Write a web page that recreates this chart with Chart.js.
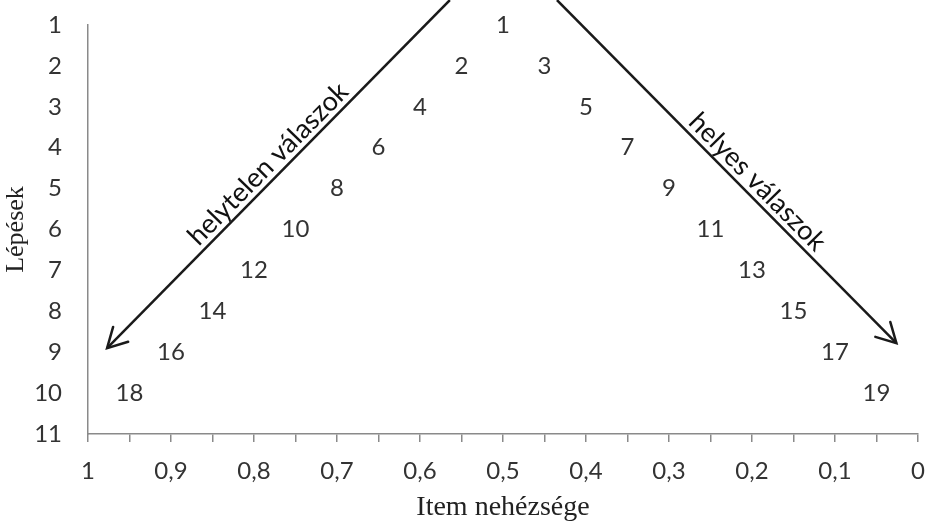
<!DOCTYPE html>
<html>
<head>
<meta charset="utf-8">
<script src="https://cdn.jsdelivr.net/npm/chart.js@4/dist/chart.umd.min.js"></script>
<style>
	html, body { margin: 0; padding: 0; background: #fff; }
	#wrap { width: 927px; height: 528px; }
</style>
</head>
<body>
<div id="wrap"><canvas id="chart1"></canvas></div>
<script>
	"use strict";

	// item numbers, their difficulty (x) and step (y)
	var itemLabels = ["1", "2", "3", "4", "5", "6", "7", "8", "9", "10", "11", "12", "13", "14", "15", "16", "17", "18", "19"];
	var difficulty = [0.5, 0.55, 0.45, 0.6, 0.4, 0.65, 0.35, 0.7, 0.3, 0.75, 0.25, 0.8, 0.2, 0.85, 0.15, 0.9, 0.1, 0.95, 0.05];
	var steps = [1, 2, 2, 3, 3, 4, 4, 5, 5, 6, 6, 7, 7, 8, 8, 9, 9, 10, 10];

	// arrows (start -> tip) in data units
	var wrongArrowX = [0.564, 0.977];
	var wrongArrowY = [0.39, 8.9];
	var rightArrowX = [0.435, 0.026];
	var rightArrowY = [0.39, 8.78];
	var arrowTexts = ["helytelen válaszok", "helyes válaszok"];

	var tickFont = "Lato";
	var textColor = "#333";

	function pts(xs, ys) {
		return xs.map(function (x, i) { return { x: x, y: ys[i] }; });
	}

	// draws the item numbers, arrow heads and arrow captions
	var decorPlugin = {
		id: "decor",
		afterDatasetsDraw: function (chart) {
			var ctx = chart.ctx;
			ctx.save();
			ctx.font = "24px " + tickFont;
			ctx.fillStyle = textColor;
			ctx.textAlign = "center";
			ctx.textBaseline = "middle";
			chart.getDatasetMeta(0).data.forEach(function (el, i) {
				ctx.fillText(itemLabels[i], el.x, el.y);
			});

			[1, 2].forEach(function (d, k) {
				var p = chart.getDatasetMeta(d).data;
				var a = p[0], b = p[1];
				var ang = Math.atan2(b.y - a.y, b.x - a.x);
				ctx.strokeStyle = "#1a1a1a";
				ctx.lineWidth = 2.5;
				ctx.lineCap = "round";
				ctx.beginPath();
				ctx.moveTo(b.x - 22 * Math.cos(ang - 0.5), b.y - 22 * Math.sin(ang - 0.5));
				ctx.lineTo(b.x, b.y);
				ctx.lineTo(b.x - 22 * Math.cos(ang + 0.5), b.y - 22 * Math.sin(ang + 0.5));
				ctx.stroke();

				// caption along the shaft
				var t = k === 0 ? 0.5 : 0.56;
				var mx = a.x + (b.x - a.x) * t, my = a.y + (b.y - a.y) * t;
				var rot = k === 0 ? ang + Math.PI : ang;
				ctx.save();
				ctx.translate(mx, my);
				ctx.rotate(rot);
				ctx.font = "27px " + tickFont;
				ctx.fillStyle = "#111";
				ctx.textBaseline = "bottom";
				ctx.fillText(arrowTexts[k], 0, -1);
				ctx.restore();
			});
			ctx.restore();
		}
	};

	new Chart(document.getElementById("chart1"), {
		type: "scatter",
		data: {
			datasets: [{
				data: pts(difficulty, steps),
				pointRadius: 0,
				pointHoverRadius: 0
			}, {
				data: pts(wrongArrowX, wrongArrowY),
				showLine: true,
				borderColor: "#1a1a1a",
				borderWidth: 2.5,
				pointRadius: 0,
				clip: false
			}, {
				data: pts(rightArrowX, rightArrowY),
				showLine: true,
				borderColor: "#1a1a1a",
				borderWidth: 2.5,
				pointRadius: 0,
				clip: false
			}]
		},
		options: {
			responsive: true,
			maintainAspectRatio: false,
			animation: false,
			layout: { padding: 0 },
			plugins: {
				legend: { display: false },
				tooltip: { enabled: false }
			},
			scales: {
				x: {
					type: "linear",
					reverse: true,
					min: 0,
					max: 1,
					afterFit: function (s) { s.height = 94; s.paddingLeft = 0; s.paddingRight = 9; },
					border: { color: "#8a8a8a", width: 1.5 },
					grid: { drawOnChartArea: false, drawTicks: true, tickLength: 8, color: "#8a8a8a", lineWidth: 1.5 },
					ticks: {
						stepSize: 0.05,
						autoSkip: false,
						maxRotation: 0,
						padding: 15,
						color: textColor,
						font: { family: tickFont, size: 24 },
						callback: function (v) {
							var n = Math.round(v * 20);
							if (n % 2) return "";
							if (n === 0 || n === 20) return String(n / 20);
							return (n / 20).toFixed(1).replace(".", ",");
						}
					},
					title: {
						display: true,
						text: "Item nehézsége",
						color: "#222",
						padding: { top: 0, bottom: 4 },
						font: { family: "Liberation Serif", size: 28 }
					}
				},
				y: {
					reverse: true,
					min: 1,
					max: 11,
					afterFit: function (s) { s.width = 88; s.paddingTop = 25; s.paddingBottom = 0; },
					border: { color: "#8a8a8a", width: 1.5 },
					grid: { drawOnChartArea: false, drawTicks: false },
					ticks: {
						stepSize: 1,
						padding: 26,
						color: textColor,
						font: { family: tickFont, size: 24 }
					},
					title: {
						display: true,
						text: "Lépések",
						color: "#222",
						padding: { top: 1, bottom: 0 },
						font: { family: "Liberation Serif", size: 26 }
					}
				}
			}
		},
		plugins: [decorPlugin]
	});
</script>
</body>
</html>
